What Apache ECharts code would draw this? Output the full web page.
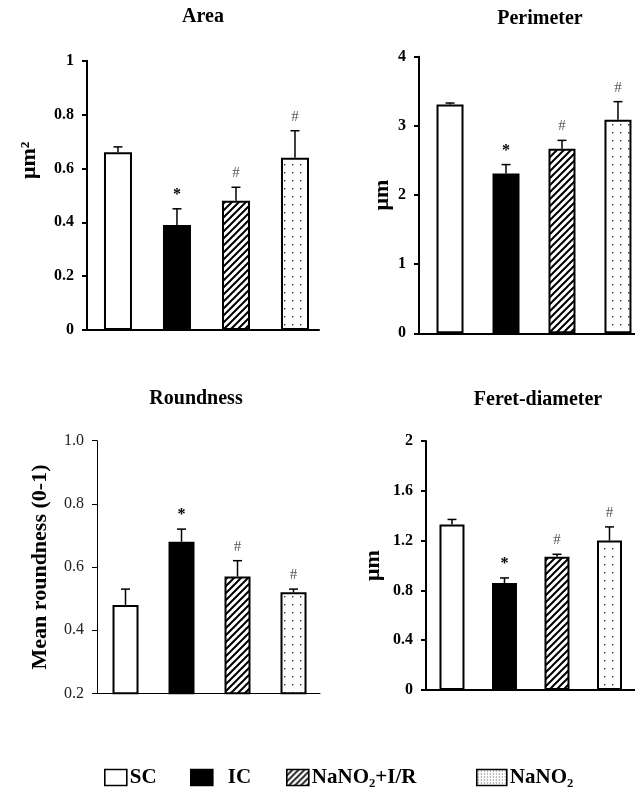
<!DOCTYPE html>
<html>
<head>
<meta charset="utf-8">
<script src="https://cdn.jsdelivr.net/npm/echarts@6/dist/echarts.min.js"></script>
<style>
html,body{margin:0;padding:0;background:#fff;}
#chart{width:635px;height:789px;}
</style>
</head>
<body>
<div id="chart"></div>
<script>
// ---- data ----
const categories = ['SC', 'IC', 'NaNO\u2082+I/R', 'NaNO\u2082'];
const panelTitles = ['Area', 'Perimeter', 'Roundness', 'Feret-diameter'];
const yAxisNames = ['\u03bcm\u00b2', '\u03bcm', 'Mean roundness (0-1)', '\u03bcm'];
const markers = ['', '*', '#', '#'];

const areaMean = [0.66, 0.39, 0.48, 0.64];
const areaErr = [0.02, 0.06, 0.05, 0.10];
const perimeterMean = [3.31, 2.31, 2.67, 3.09];
const perimeterErr = [0.02, 0.13, 0.12, 0.26];
const roundnessMean = [0.48, 0.68, 0.57, 0.52];
const roundnessErr = [0.05, 0.04, 0.05, 0.01];
const feretMean = [1.33, 0.86, 1.07, 1.20];
const feretErr = [0.04, 0.04, 0.02, 0.11];

// y axis ticks: [min, max, interval]
const areaTicks = [0, 1, 0.2];
const perimeterTicks = [0, 4, 1];
const roundnessTicks = [0.2, 1.0, 0.2];
const feretTicks = [0, 2, 0.4];

const means = [areaMean, perimeterMean, roundnessMean, feretMean];
const errs = [areaErr, perimeterErr, roundnessErr, feretErr];
const ticks = [areaTicks, perimeterTicks, roundnessTicks, feretTicks];

// ---- layout (positions/sizes) ----
const FONT = '"Liberation Serif", "Times New Roman", serif';
const layout = [
  {left: 87, top: 60.7, width: 232, height: 269.3, xMin: -0.525, xMax: 3.407, barW: 28, bold: true, nameGap: 47, namePad: 70, nameSize: 22, titleX: 203, titleY: 18, decimals: null},
  {left: 419, top: 56.7, width: 216, height: 276.6, xMin: -0.554, xMax: 3.304, barW: 27, bold: true, nameGap: 26, namePad: 0, nameSize: 22, titleX: 540, titleY: 20, decimals: null},
  {left: 97, top: 440.7, width: 223, height: 252.6, xMin: -0.509, xMax: 3.473, barW: 26, bold: false, nameGap: 46, namePad: 0, nameSize: 22, titleX: 196, titleY: 400, decimals: 1},
  {left: 426, top: 441, width: 209, height: 249, xMin: -0.495, xMax: 3.486, barW: 25, bold: true, nameGap: 42, namePad: 0, nameSize: 22, titleX: 538, titleY: 401, decimals: null}
];

// ---- fill patterns ----
function makeCanvas(w, h) { const c = document.createElement('canvas'); c.width = w; c.height = h; return c; }
function hatchPattern(s, lw) {
  const c = makeCanvas(s, s); const ctx = c.getContext('2d');
  ctx.fillStyle = '#fff'; ctx.fillRect(0, 0, s, s);
  ctx.strokeStyle = '#000'; ctx.lineWidth = lw;
  ctx.beginPath();
  ctx.moveTo(-1, s + 1); ctx.lineTo(s + 1, -1);
  ctx.moveTo(-s / 2 - 1, s / 2 + 1); ctx.lineTo(s / 2 + 1, -s / 2 - 1);
  ctx.moveTo(s / 2 - 1, s * 1.5 + 1); ctx.lineTo(s * 1.5 + 1, s / 2 - 1);
  ctx.stroke();
  return {image: c, repeat: 'repeat'};
}
function dotPattern(size, dot, col) {
  const c = makeCanvas(size, size); const ctx = c.getContext('2d');
  ctx.fillStyle = '#fff'; ctx.fillRect(0, 0, size, size);
  ctx.fillStyle = col;
  ctx.fillRect(Math.floor(size / 2), Math.floor(size / 2), dot, dot);
  return {image: c, repeat: 'repeat'};
}
const fills = ['#ffffff', '#000000', hatchPattern(7, 2), dotPattern(8, 1.4, '#333')];
const legendFills = ['#ffffff', '#000000', hatchPattern(6, 1.6), dotPattern(3, 1, '#555')];

// ---- build option ----
const grids = [], xAxes = [], yAxes = [], series = [], titles = [];
layout.forEach((L, p) => {
  grids.push({left: L.left, top: L.top, width: L.width, height: L.height, containLabel: false});
  const lw = L.bold ? 2 : 1;
  xAxes.push({
    type: 'value', gridIndex: p, min: L.xMin, max: L.xMax,
    axisLine: {show: true, onZero: false, lineStyle: {color: '#000', width: lw}},
    axisTick: {show: false}, axisLabel: {show: false}, splitLine: {show: false}
  });
  const t = ticks[p];
  yAxes.push({
    type: 'value', gridIndex: p, min: t[0], max: t[1], interval: t[2],
    name: yAxisNames[p], nameLocation: 'middle', nameGap: L.nameGap, nameRotate: 90,
    nameTextStyle: {fontFamily: FONT, fontWeight: 'bold', fontSize: L.nameSize, color: '#000', padding: [0, 0, 0, L.namePad]},
    axisLine: {show: true, onZero: false, lineStyle: {color: '#000', width: lw}},
    axisTick: {show: true, length: 5, lineStyle: {color: '#000', width: lw}},
    axisLabel: {
      margin: 13, fontFamily: FONT, fontSize: 16, color: L.bold ? '#000' : '#222',
      fontWeight: L.bold ? 'bold' : 'normal',
      formatter: L.decimals ? (v) => v.toFixed(L.decimals) : (v) => String(+v.toFixed(4))
    },
    splitLine: {show: false}
  });
  categories.forEach((name, i) => {
    series.push({
      type: 'bar', name: name, xAxisIndex: p, yAxisIndex: p,
      barWidth: L.barW, barGap: '-100%',
      data: [[i, means[p][i]]],
      itemStyle: {color: fills[i], borderColor: '#000', borderWidth: 2},
      emphasis: {disabled: true}, z: 2
    });
  });
  const errData = means[p].map((m, i) => [i, m, errs[p][i]]);
  series.push({
    type: 'custom', xAxisIndex: p, yAxisIndex: p, z: 5, silent: true,
    data: errData,
    encode: {x: 0, y: 1},
    renderItem: function (params, api) {
      const x = api.value(0), m = api.value(1), e = api.value(2);
      const p0 = api.coord([x, m]), p1 = api.coord([x, m + e]);
      const mk = markers[params.dataIndex];
      const children = [
        {type: 'line', shape: {x1: p0[0], y1: p0[1], x2: p1[0], y2: p1[1]}, style: {stroke: '#000', lineWidth: 1.5}},
        {type: 'line', shape: {x1: p1[0] - 4.5, y1: p1[1], x2: p1[0] + 4.5, y2: p1[1]}, style: {stroke: '#000', lineWidth: 1.5}}
      ];
      if (mk) {
        children.push({
          type: 'text', x: p1[0], y: p1[1] - 14,
          style: {text: mk, x: 0, y: 0, align: 'center', verticalAlign: 'middle',
            font: (mk === '*' ? 'bold 16px ' : '15px ') + FONT, fill: mk === '*' ? '#000' : '#555'}
        });
      }
      return {type: 'group', children: children};
    }
  });
  titles.push({
    text: panelTitles[p], left: L.titleX, top: L.titleY - 11, textAlign: 'center', padding: 0,
    textStyle: {fontFamily: FONT, fontWeight: 'bold', fontSize: 20, color: '#000'}
  });
});

const legendLefts = [104, 190, 286, 476];
const legendWidths = [22, 22, 22, 30];
const legends = categories.map((name, i) => ({
  data: [{name: name, itemStyle: {color: legendFills[i], borderColor: '#000', borderWidth: 1.6}}],
  left: legendLefts[i], top: 767, icon: 'rect', itemWidth: legendWidths[i], itemHeight: 16,
  padding: 0, selectedMode: false,
  textStyle: {fontFamily: FONT, fontWeight: 'bold', fontSize: 21, color: '#000', padding: [0, 0, 0, i === 1 ? 10 : -2]}
}));

const chart = echarts.init(document.getElementById('chart'), null, {renderer: 'canvas'});
chart.setOption({
  animation: false,
  backgroundColor: '#fff',
  title: titles,
  legend: legends,
  grid: grids,
  xAxis: xAxes,
  yAxis: yAxes,
  series: series
});
</script>
</body>
</html>
